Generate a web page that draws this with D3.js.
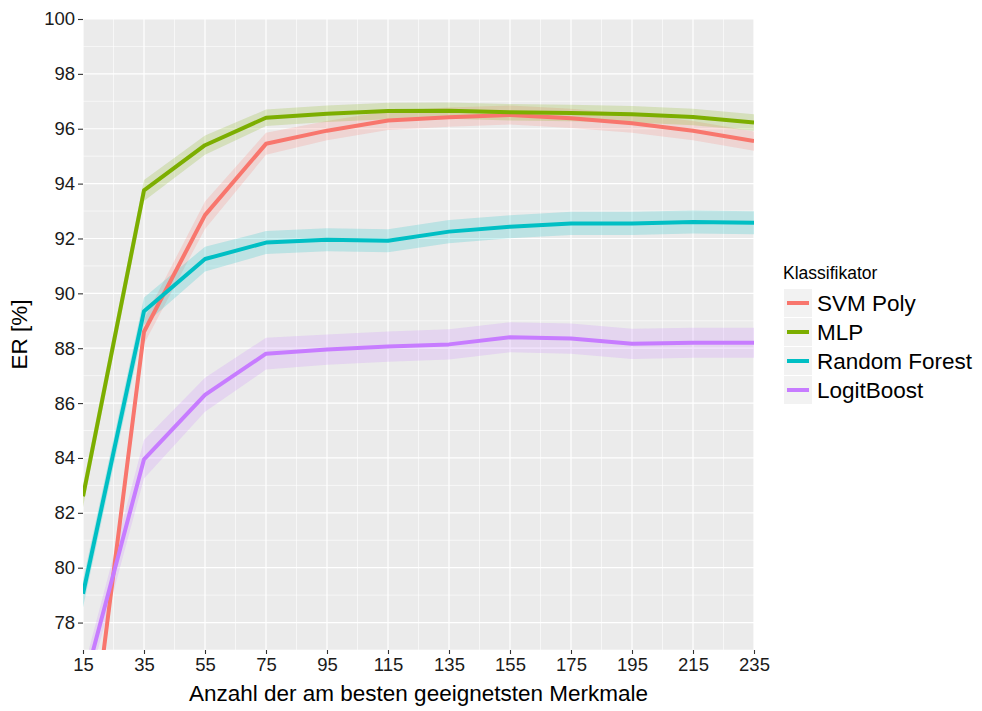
<!DOCTYPE html>
<html>
<head>
<meta charset="utf-8">
<script src="https://cdn.jsdelivr.net/npm/d3@7"></script>
<style>
  html, body { margin: 0; padding: 0; background: #fff; }
  svg { display: block; font-family: "Liberation Sans", Arial, Helvetica, sans-serif; }
</style>
</head>
<body>
<svg id="chart" width="982" height="711"></svg>
<script>
// Number of selected features (x positions)
const features = [15, 35, 55, 75, 95, 115, 135, 155, 175, 195, 215, 235];

// Classifier names and colours
const classifiers = ["SVM Poly", "MLP", "Random Forest", "LogitBoost"];
const colors = ["#F8766D", "#7CAE00", "#00BFC4", "#C77CFF"];

// Mean recognition rate ER [%] per classifier
const svmPoly      = [71.0, 88.6, 92.85, 95.45, 95.93, 96.3, 96.42, 96.5, 96.38, 96.2, 95.93, 95.55];
const mlp          = [82.6, 93.75, 95.4, 96.4, 96.55, 96.65, 96.66, 96.6, 96.57, 96.53, 96.43, 96.23];
const randomForest = [79.05, 89.35, 91.25, 91.85, 91.95, 91.92, 92.25, 92.43, 92.55, 92.55, 92.6, 92.57];
const logitBoost   = [75.6, 83.95, 86.3, 87.8, 87.95, 88.06, 88.14, 88.4, 88.35, 88.16, 88.2, 88.2];

// Confidence band half-widths per classifier
const svmPolyBand      = [0.4, 0.45, 0.5, 0.4, 0.35, 0.35, 0.35, 0.35, 0.35, 0.35, 0.35, 0.35];
const mlpBand          = [0.4, 0.38, 0.35, 0.3, 0.3, 0.3, 0.3, 0.3, 0.3, 0.3, 0.3, 0.3];
const randomForestBand = [0.5, 0.5, 0.45, 0.42, 0.42, 0.42, 0.42, 0.42, 0.42, 0.42, 0.42, 0.42];
const logitBoostBand   = [0.6, 0.7, 0.62, 0.58, 0.55, 0.55, 0.55, 0.55, 0.55, 0.55, 0.55, 0.55];

const yTicks = [78, 80, 82, 84, 86, 88, 90, 92, 94, 96, 98, 100];
const xTicks = features;

const seriesValues = [svmPoly, mlp, randomForest, logitBoost];
const seriesBands = [svmPolyBand, mlpBand, randomForestBand, logitBoostBand];

const series = classifiers.map((name, i) => ({
  name,
  color: colors[i],
  points: features.map((f, j) => ({
    x: f,
    y: seriesValues[i][j],
    lo: seriesValues[i][j] - seriesBands[i][j],
    hi: seriesValues[i][j] + seriesBands[i][j]
  }))
}));

const svg = d3.select("#chart");
const panel = { left: 83, top: 19, right: 754, bottom: 650 };

const x = d3.scaleLinear().domain([15, 235]).range([panel.left, panel.right]);
const y = d3.scaleLinear().domain([77, 100]).range([panel.bottom, panel.top]);

// Panel background
svg.append("rect")
  .attr("x", panel.left).attr("y", panel.top)
  .attr("width", panel.right - panel.left)
  .attr("height", panel.bottom - panel.top)
  .attr("fill", "#EBEBEB");

const grid = svg.append("g");
// Minor grid lines
const xMinor = d3.range(25, 235, 20);
const yMinor = d3.range(77, 100, 2);
grid.selectAll(".vminor").data(xMinor).join("line")
  .attr("x1", d => x(d)).attr("x2", d => x(d))
  .attr("y1", panel.top).attr("y2", panel.bottom)
  .attr("stroke", "#fff").attr("stroke-width", 0.6);
grid.selectAll(".hminor").data(yMinor).join("line")
  .attr("y1", d => y(d)).attr("y2", d => y(d))
  .attr("x1", panel.left).attr("x2", panel.right)
  .attr("stroke", "#fff").attr("stroke-width", 0.6);
// Major grid lines
grid.selectAll(".vmajor").data(xTicks).join("line")
  .attr("x1", d => x(d)).attr("x2", d => x(d))
  .attr("y1", panel.top).attr("y2", panel.bottom)
  .attr("stroke", "#fff").attr("stroke-width", 1.2);
grid.selectAll(".hmajor").data(yTicks).join("line")
  .attr("y1", d => y(d)).attr("y2", d => y(d))
  .attr("x1", panel.left).attr("x2", panel.right)
  .attr("stroke", "#fff").attr("stroke-width", 1.2);

// Clip the data layer to the panel
svg.append("defs").append("clipPath").attr("id", "panel-clip")
  .append("rect")
  .attr("x", panel.left).attr("y", panel.top)
  .attr("width", panel.right - panel.left)
  .attr("height", panel.bottom - panel.top);

const dataLayer = svg.append("g").attr("clip-path", "url(#panel-clip)");

const area = d3.area()
  .x(d => x(d.x))
  .y0(d => y(d.lo))
  .y1(d => y(d.hi));

const line = d3.line()
  .x(d => x(d.x))
  .y(d => y(d.y));

// Confidence ribbons
dataLayer.selectAll(".band").data(series).join("path")
  .attr("d", d => area(d.points))
  .attr("fill", d => d.color)
  .attr("fill-opacity", 0.2);

// Mean lines
dataLayer.selectAll(".mean").data(series).join("path")
  .attr("d", d => line(d.points))
  .attr("fill", "none")
  .attr("stroke", d => d.color)
  .attr("stroke-width", 4)
  .attr("stroke-linejoin", "round");

// Axes
const xAxis = d3.axisBottom(x).tickValues(xTicks).tickSize(4).tickPadding(3);
const yAxis = d3.axisLeft(y).tickValues(yTicks).tickSize(5).tickPadding(3);

const gx = svg.append("g").attr("transform", `translate(0,${panel.bottom})`).call(xAxis);
const gy = svg.append("g").attr("transform", `translate(${panel.left},0)`).call(yAxis);
[gx, gy].forEach(g => {
  g.select(".domain").remove();
  g.selectAll(".tick line").attr("stroke", "#333").attr("stroke-width", 1.1);
  g.selectAll(".tick text")
    .attr("fill", "#1a1a1a")
    .style("font-size", "18.5px")
    .style("font-family", "'Liberation Sans', Arial, sans-serif");
});
gx.selectAll(".tick text").attr("dy", "0.78em");

// Axis titles
svg.append("text")
  .attr("x", (panel.left + panel.right) / 2)
  .attr("y", 701)
  .attr("text-anchor", "middle")
  .style("font-size", "22.5px")
  .attr("fill", "#000")
  .text("Anzahl der am besten geeignetsten Merkmale");

svg.append("text")
  .attr("transform", `translate(27,${(panel.top + panel.bottom) / 2}) rotate(-90)`)
  .attr("text-anchor", "middle")
  .style("font-size", "22.5px")
  .attr("fill", "#000")
  .text("ER [%]");

// Legend
const legend = svg.append("g").attr("transform", "translate(784,0)");
legend.append("text")
  .attr("x", -1).attr("y", 279)
  .style("font-size", "17.5px")
  .attr("fill", "#000")
  .text("Klassifikator");

const rows = legend.selectAll(".row").data(series).join("g")
  .attr("transform", (d, i) => `translate(0,${289 + i * 29})`);
rows.append("rect")
  .attr("width", 28).attr("height", 28)
  .attr("fill", "#F2F2F2");
rows.append("line")
  .attr("x1", 3).attr("x2", 25)
  .attr("y1", 14).attr("y2", 14)
  .attr("stroke", d => d.color)
  .attr("stroke-width", 4);
rows.append("text")
  .attr("x", 33).attr("y", 14)
  .attr("dy", "0.36em")
  .style("font-size", "22.5px")
  .attr("fill", "#000")
  .text(d => d.name);
</script>
</body>
</html>
